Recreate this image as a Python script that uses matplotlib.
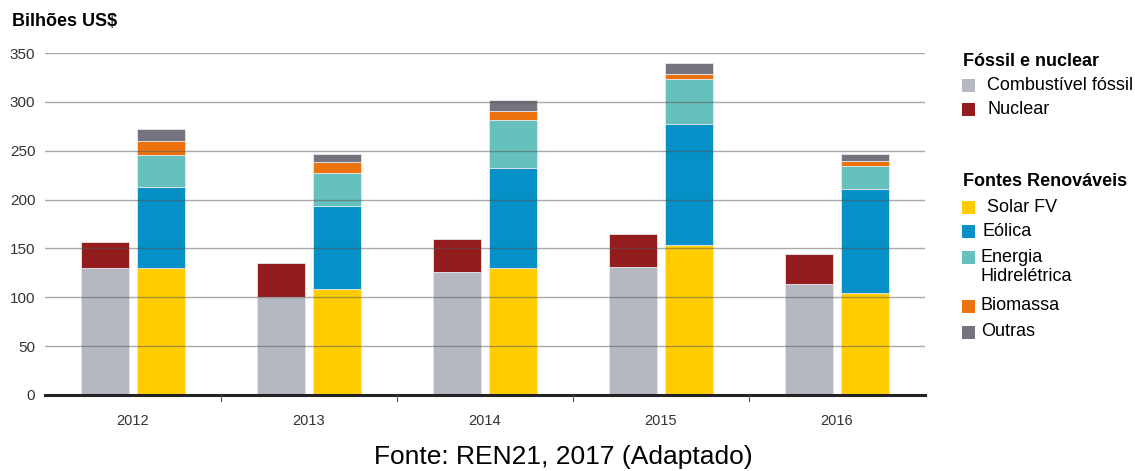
import matplotlib
matplotlib.use("Agg")
import matplotlib.pyplot as plt
from matplotlib.patches import Rectangle
import numpy as np

plt.rcParams['font.family'] = ['Liberation Sans', 'DejaVu Sans']

years = ['2012', '2013', '2014', '2015', '2016']
fossil_names = ['Combustível fóssil', 'Nuclear']
fossil_values = {
    'Combustível fóssil': [130, 100, 126, 131, 114],
    'Nuclear': [27, 35, 34, 34, 30],
}
renew_names = ['Solar FV', 'Eólica', 'Energia\nHidrelétrica', 'Biomassa', 'Outras']
renew_values = {
    'Solar FV': [130, 108, 130, 154, 104],
    'Eólica': [83, 85, 102, 123, 107],
    'Energia\nHidrelétrica': [33, 34, 49, 46, 23],
    'Biomassa': [14, 11, 10, 6, 5],
    'Outras': [12, 9, 11, 11, 8],
}
colors = {
    'Combustível fóssil': '#b5b8c0',
    'Nuclear': '#951c1c',
    'Solar FV': '#ffcc00',
    'Eólica': '#0590c8',
    'Energia\nHidrelétrica': '#66c0bd',
    'Biomassa': '#ec720e',
    'Outras': '#74737e',
}
yticks = [0, 50, 100, 150, 200, 250, 300, 350]

W, H = 1135, 471
fig = plt.figure(figsize=(W / 100, H / 100), dpi=100)
ax = fig.add_axes([45 / W, (H - 395) / H, 880 / W, (395 - 53) / H])

x = np.arange(len(years))
bw = 0.273
off = 0.159

bottom = np.zeros(len(years))
for name in fossil_names:
    v = np.array(fossil_values[name], dtype=float)
    ax.bar(x - off, v, bw, bottom=bottom, color=colors[name], edgecolor='#e6e8ec',
           linewidth=0.6, zorder=2)
    bottom += v
bottom = np.zeros(len(years))
for name in renew_names:
    v = np.array(renew_values[name], dtype=float)
    ax.bar(x + off, v, bw, bottom=bottom, color=colors[name], edgecolor='#e6e8ec',
           linewidth=0.6, zorder=2)
    bottom += v

ax.set_xlim(-0.5, len(years) - 0.5)
ax.set_ylim(0, 350)
for yt in yticks[1:]:
    ax.axhline(yt, color='#555555', lw=1.0, alpha=0.5, zorder=3)
ax.axhline(0, color='#222222', lw=2.2, zorder=4, clip_on=False)

for s in ax.spines.values():
    s.set_visible(False)
ax.set_yticks(yticks)
ax.set_yticklabels([str(t) for t in yticks], fontsize=11, color='#333333')
ax.tick_params(axis='y', length=0, pad=7)
ax.set_xticks(x)
ax.set_xticklabels(years, fontsize=10.5, color='#333333')
ax.tick_params(axis='x', length=0, pad=14)
# small separators between groups
for b in np.arange(0.5, len(years) - 0.5, 1.0):
    ax.plot([b, b], [0, -6], color='#555555', lw=0.8, clip_on=False, zorder=4)

fig.text(12 / W, 1 - 22 / H, 'Bilhões US$', fontsize=13, fontweight='bold', va='center', ha='left')
fig.text(563 / W, 1 - 457 / H, 'Fonte: REN21, 2017 (Adaptado)', fontsize=19, va='center', ha='center')

# legend
def leg_header(y, text):
    fig.text(963 / W, 1 - y / H, text, fontsize=13, fontweight='bold', va='center', ha='left')

def leg_item(y, name, ytext=None, tx=987):
    sz = 13
    fig.add_artist(Rectangle((962 / W, 1 - (y + sz / 2) / H), sz / W, sz / H,
                             transform=fig.transFigure, facecolor=colors[name], edgecolor='none'))
    fig.text(tx / W, 1 - (ytext if ytext is not None else y) / H, name, fontsize=13,
             va='center', ha='left', linespacing=1.15)

leg_header(61, 'Fóssil e nuclear')
leg_item(85, fossil_names[0])
leg_item(109, fossil_names[1])
leg_header(181, 'Fontes Renováveis')
leg_ys = [207, 231, 257, 306, 332]
text_ys = [207, 231, 267, 306, 332]
text_xs = [987, 983, 981, 981, 981]
for name, yy, ty, tx in zip(renew_names, leg_ys, text_ys, text_xs):
    leg_item(yy, name, ty, tx)

fig.savefig('out.png', dpi=100)
